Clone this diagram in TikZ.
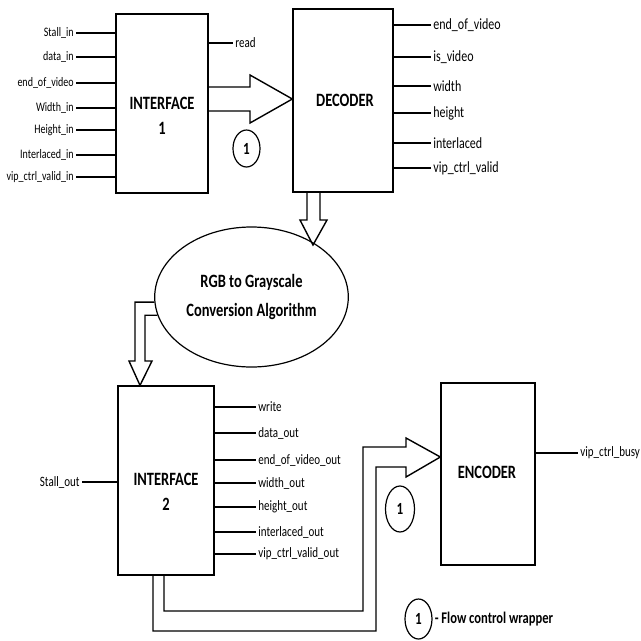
\documentclass[tikz,border=0pt]{standalone}
\usepackage{fontspec}
\setmainfont{Carlito}[FakeStretch=0.77]
\usetikzlibrary{shapes.geometric, calc}

\tikzset{
  blockbox/.style={draw, line width=1.3pt, inner sep=0pt},
  blocktitle/.style={font=\fontsize{18.8}{25}\selectfont\bfseries, align=center, inner sep=0pt},
  sigline/.style={line width=1.4pt},
  siglabel/.style={inner sep=2pt},
  bigarrow/.style={line width=1.4pt, line join=miter},
  flowmark/.style={draw, ellipse, line width=1.2pt, inner sep=0pt, font=\fontsize{17}{19}\selectfont\bfseries}
}

\begin{document}
\begin{tikzpicture}[x=1pt, y=-1pt]
\useasboundingbox (0,0) rectangle (641,641);

% --- Blocks ---
\node[blockbox, minimum width=92, minimum height=179] (if1) at (162,103.5) {};
\node[blocktitle] (if1-title) at (162,115.5) {INTERFACE\\1};

\node[blockbox, minimum width=100, minimum height=183] (dec) at (343,100.5) {};
\node[blocktitle] (dec-title) at (345,100) {DECODER};

\node[draw, ellipse, line width=1.2pt, minimum width=176, minimum height=140,
      font=\fontsize{18.8}{29}\selectfont\bfseries, align=center]
      (rgb) at (251.5,297) {RGB to Grayscale\\Conversion Algorithm};

\node[blockbox, minimum width=96, minimum height=189] (if2) at (166,480.5) {};
\node[blocktitle] (if2-title) at (166,492) {INTERFACE\\2};

\node[blockbox, minimum width=94, minimum height=182] (enc) at (488,474) {};
\node[blocktitle] (enc-title) at (487,472) {ENCODER};

% --- Interface 1 signals ---
\foreach \yy/\txt [count=\i] in {33/Stall\_in, 57/data\_in, 83/end\_of\_video, 108/Width\_in,
    130/Height\_in, 155/Interlaced\_in, 177/vip\_ctrl\_valid\_in}
  \draw[sigline] (if1.west |- 0,\yy) -- ++(-39,0)
    node[siglabel, anchor=east, font=\fontsize{13}{15}\selectfont] (if1-in\i) {\txt};
\draw[sigline] (if1.east |- 0,43) -- ++(24,0)
  node[siglabel, anchor=west, font=\fontsize{14.3}{16}\selectfont] (if1-read) {read};

% --- Decoder signals ---
\foreach \yy/\txt [count=\i] in {25/end\_of\_video, 57/is\_video, 86/width, 113/height,
    143/interlaced, 168/vip\_ctrl\_valid}
  \draw[sigline] (dec.east |- 0,\yy) -- ++(37,0)
    node[siglabel, anchor=west, font=\fontsize{15.6}{18}\selectfont] (dec-out\i) {\txt};

% --- Interface 2 signals ---
\draw[sigline] (if2.west |- 0,482) -- ++(-35,0)
  node[siglabel, anchor=east, font=\fontsize{14.3}{16}\selectfont] (if2-stall) {Stall\_out};
\foreach \yy/\txt [count=\i] in {407/write, 433/data\_out, 460/end\_of\_video\_out, 483/width\_out,
    507/height\_out, 532/interlaced\_out, 554/vip\_ctrl\_valid\_out}
  \draw[sigline] (if2.east |- 0,\yy) -- ++(41,0)
    node[siglabel, anchor=west, font=\fontsize{14.3}{16}\selectfont] (if2-out\i) {\txt};

% --- Encoder signal ---
\draw[sigline] (enc.east |- 0,453) -- ++(42,0)
  node[siglabel, anchor=west, font=\fontsize{14.3}{16}\selectfont] (enc-busy) {vip\_ctrl\_busy};

% --- Wide arrows ---
\draw[bigarrow] (if1.east |- 0,87) -- (250,87) -- (250,75) -- (dec.west |- 0,99)
  -- (250,123) -- (250,111) -- (if1.east |- 0,111);
\draw[bigarrow] (307,0 |- dec.south) -- (307,220) -- (300,220) -- (313,245)
  -- (327,220) -- (320,220) -- (320,0 |- dec.south);
\draw[bigarrow] (rgb.183) -- (135,0 |- rgb.183) -- (135,361) -- (129,361) -- (140,0 |- if2.north)
  -- (152,361) -- (145,361) -- (145,0 |- rgb.191) -- (rgb.191);
\draw[bigarrow] (153,0 |- if2.south) -- (153,631) -- (376,631) -- (376,467) -- (406,467)
  -- (406,477) -- (enc.west |- 0,457) -- (406,438) -- (406,447) -- (363,447)
  -- (363,611) -- (164,611) -- (164,0 |- if2.south);

% --- Flow control wrapper marks ---
\node[flowmark, minimum width=27, minimum height=37] (fc1) at (246.5,148.5) {1};
\node[flowmark, minimum width=29, minimum height=46] (fc2) at (400,509) {1};
\node[flowmark, minimum width=27, minimum height=40] (fc-key) at (418.5,619) {1};
\node[anchor=west, inner sep=2pt, font=\fontsize{16.3}{19}\selectfont\bfseries]
  (fc-keytext) at (fc-key.east) {- Flow control wrapper};

\end{tikzpicture}
\end{document}
